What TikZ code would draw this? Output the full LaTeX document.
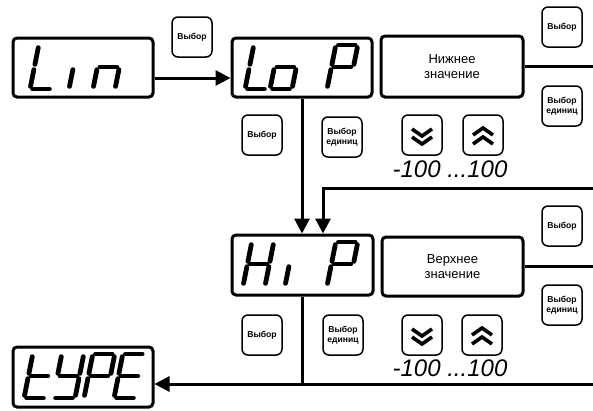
\documentclass[tikz,border=0pt]{standalone}
\usepackage{fontspec}
\setmainfont{Liberation Sans}
\usetikzlibrary{arrows.meta}
\tikzset{
  disp/.style={draw, line width=3pt, rounded corners=4pt, inner sep=0pt},
  btn/.style={draw, line width=1.5pt, rounded corners=6pt, minimum width=40pt, minimum height=40pt, inner sep=0pt, font=\fontsize{8.6}{10.5}\selectfont\bfseries, align=center},
  seg/.style={line width=4.8pt, line cap=round},
  conn/.style={line width=3pt},
  arr/.style={conn, -{Triangle[length=15pt,width=15pt]}},
  chev/.style={line width=3.6pt, miter limit=10},
  rng/.style={font=\fontsize{24}{24}\selectfont\itshape, inner sep=0pt},
  lbl/.style={font=\fontsize{13}{14.5}\selectfont, align=center}
}
\def\dW{22}
\def\dH{44}
\def\dS{8.8}
\newcommand\sg[6]{\draw[seg] ({#1+#3*\dW+#4*\dS},{#2-#4*\dH}) -- ({#1+#5*\dW+#6*\dS},{#2-#6*\dH});}
\newcommand\segA[2]{\sg{#1}{#2}{0.12}{1}{0.88}{1}}
\newcommand\segB[2]{\sg{#1}{#2}{1}{0.94}{1}{0.56}}
\newcommand\segC[2]{\sg{#1}{#2}{1}{0.44}{1}{0.06}}
\newcommand\segD[2]{\sg{#1}{#2}{0.12}{0}{0.88}{0}}
\newcommand\segE[2]{\sg{#1}{#2}{0}{0.44}{0}{0.06}}
\newcommand\segF[2]{\sg{#1}{#2}{0}{0.94}{0}{0.56}}
\newcommand\segG[2]{\sg{#1}{#2}{0.12}{0.5}{0.88}{0.5}}
\newcommand\sdigit[3]{\foreach \q in {#3}{\csname seg\q\endcsname{#1}{#2}}}
\newcommand\chevD[1]{%
  \draw[chev] ([shift={(-10,-6)}]#1.center) -- ([shift={(0,1)}]#1.center) -- ([shift={(10,-6)}]#1.center);
  \draw[chev] ([shift={(-10,2)}]#1.center) -- ([shift={(0,9)}]#1.center) -- ([shift={(10,2)}]#1.center);}
\newcommand\chevU[1]{%
  \draw[chev] ([shift={(-10,0)}]#1.center) -- ([shift={(0,-7)}]#1.center) -- ([shift={(10,0)}]#1.center);
  \draw[chev] ([shift={(-10,9)}]#1.center) -- ([shift={(0,2)}]#1.center) -- ([shift={(10,9)}]#1.center);}
\begin{document}
\begin{tikzpicture}[x=1pt,y=-1pt]
\fill[white] (0,0) rectangle (593,410);
\useasboundingbox (0,0) rectangle (593,410);

% displays and text boxes
\node[disp, minimum width=140pt, minimum height=59pt] (lin) at (83,67.5) {};
\node[disp, minimum width=140pt, minimum height=59pt] (lop) at (302,67.5) {};
\node[disp, minimum width=142pt, minimum height=61pt, lbl] (low) at (452,66.5) {Нижнее\\значение};
\node[disp, minimum width=141pt, minimum height=60pt] (hip) at (302.5,265) {};
\node[disp, minimum width=141pt, minimum height=59pt, lbl] (high) at (452.5,266.5) {Верхнее\\значение};
\node[disp, minimum width=140pt, minimum height=60pt] (type) at (83,377) {};

% seven-segment glyphs
\sdigit{30}{89}{D,E,F}
\segE{69}{89}
\sdigit{93}{89}{C,E,G}
\sdigit{245}{89}{D,E,F}
\sdigit{270}{89}{C,D,E,G}
\sdigit{327}{89}{A,B,E,F,G}
\sdigit{243}{286}{B,C,E,F,G}
\segE{285}{286}
\sdigit{327}{286}{A,B,E,F,G}
\sdigit{24}{398}{D,E,F,G}
\sdigit{53}{398}{B,C,D,F,G}
\sdigit{84}{398}{A,B,E,F,G}
\sdigit{114}{398}{A,D,E,F,G}

% buttons, upper part
\node[btn] (b1) at (192,37) {Выбор};
\node[btn] (b2) at (262,135) {Выбор};
\node[btn] (b3) at (342,137) {Выбор\\единиц};
\node[btn] (b4) at (422,135) {};
\node[btn] (b5) at (483,135) {};
\node[btn] (b6) at (562,27) {Выбор};
\node[btn] (b7) at (562,106) {Выбор\\единиц};
\node[rng] (r1) at (450,169) {-100 ...100};
\chevD{b4}
\chevU{b5}

% buttons, lower part
\node[btn] (b8) at (562,226) {Выбор};
\node[btn] (b9) at (562,305) {Выбор\\единиц};
\node[btn] (b10) at (262,335) {Выбор};
\node[btn] (b11) at (343,335) {Выбор\\единиц};
\node[btn] (b12) at (422,335) {};
\node[btn] (b13) at (482,335) {};
\node[rng] (r2) at (450,368) {-100 ...100};
\chevD{b12}
\chevU{b13}

% connectors
\coordinate (eLow) at (593,67);
\coordinate (eHigh) at (593,266);
\coordinate (eBack) at (593,188);
\coordinate (jBack) at (323,188);
\coordinate (eOut) at (593,384);
\draw[arr] ([yshift=-10.5pt]lin.east) -- ([yshift=-10.5pt]lop.west);
\draw[conn] (low.east) -- (low.east -| eLow);
\draw[conn] (high.east) -- (high.east -| eHigh);
\draw[arr] (lop.south) -- (lop.south |- hip.north);
\draw[arr] (eBack) -- (jBack) -- (jBack |- hip.north);
\draw[conn] (hip.south) -- (hip.south |- eOut);
\draw[arr] (eOut) -- (eOut -| type.east);
\end{tikzpicture}
\end{document}
